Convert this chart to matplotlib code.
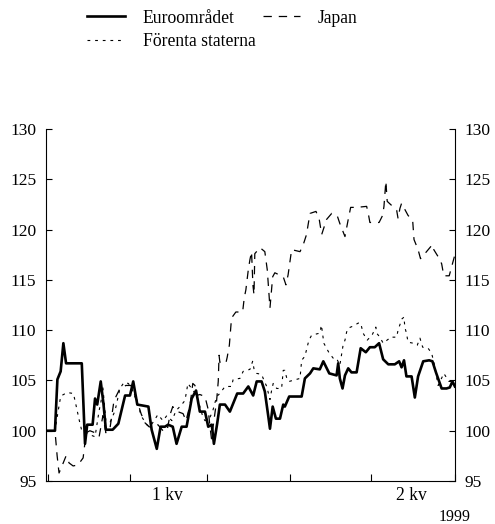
import matplotlib
matplotlib.use('Agg')
import matplotlib.pyplot as plt

plt.rcParams['font.family'] = 'Liberation Serif'
plt.rcParams['lines.scale_dashes'] = False

# days since 1 Jan 1999
euro_days = [0, 3.3, 4.2, 5.4, 6.4, 7.4, 13.2, 14.4, 15.2, 17.2, 18.1, 18.9, 20.2, 21.2, 22.1, 24.6,
             26.7, 29.2, 31, 32.2, 33.7, 37.8, 39, 40.9, 42.3, 43.9, 45.1, 46.8, 48.2, 50.1, 51.9,
             53.8, 55.4, 56.8, 58.7, 59.9, 61.2, 62, 63.2, 64.2, 66.1, 67.9, 70.6, 72.8, 74.7, 76.5,
             77.8, 79.6, 80.8, 82.1, 82.7, 83.7, 84.9, 86.4, 87.6, 88.2, 89.8, 94.4, 95.6, 97.5,
             98.7, 101.1, 102.4, 104.6, 107.3, 107.9, 108.5, 109.5, 110.4, 111.6, 112.8, 114.7,
             116.2, 118.1, 119.6, 121.4, 123, 124.5, 126.4, 128.8, 130.4, 131.3, 132.2, 133.1, 135,
             136.2, 137.4, 139.3, 141.5, 142.7, 144, 146.1, 147.9, 149.1, 150.1, 151]
euro_vals = [100, 100, 105.1, 105.9, 108.7, 106.7, 106.7, 98.7, 100.6, 100.6, 103.2, 102.6, 104.9,
             102.7, 100.1, 100.1, 100.7, 103.5, 103.5, 104.9, 102.6, 102.4, 100.1, 98.2, 100.4,
             100.4, 100.6, 100.4, 98.7, 100.4, 100.4, 103.2, 104, 101.9, 101.9, 100.4, 100.6, 98.7,
             100.7, 102.6, 102.6, 101.9, 103.7, 103.7, 104.4, 103.5, 104.9, 104.9, 103.9, 101.4,
             100.2, 102.4, 101.2, 101.2, 102.6, 102.4, 103.4, 103.4, 105.2, 105.7, 106.2, 106.1,
             106.9, 105.7, 105.5, 106.7, 105.2, 104.2, 105.5, 106.2, 105.8, 105.8, 108.2, 107.8,
             108.3, 108.3, 108.7, 107.1, 106.6, 106.6, 106.9, 106.3, 107, 105.4, 105.4, 103.3,
             105.4, 106.9, 107, 106.9, 105.8, 104.2, 104.2, 104.3, 104.9, 104.4]

japan_days = [0, 3.3, 4.1, 4.8, 5.9, 7.4, 8.5, 10, 11.8, 13.7, 14.8, 16.2, 18.1, 19.6, 21, 22.1,
              23.6, 25.1, 27.3, 29.5, 31.4, 33.6, 35.1, 36.5, 38, 39.5, 41.3, 43.2, 44.7, 45.8,
              46.8, 47.6, 50.6, 51.7, 53.2, 54.2, 55, 55.6, 56.8, 58.7, 59.9, 60.5, 61.1, 63,
              63.6, 63.9, 64.2, 66.4, 66.9, 67.7, 68.5, 70.1, 72.6, 73.2, 73.8, 74.7, 75.3, 75.9,
              76.4, 76.8, 77.1, 79, 80.8, 81.7, 82.7, 83.7, 84.5, 87.6, 88.6, 89.4, 90.7, 93.8,
              95, 96.2, 96.8, 97.5, 99.7, 100.9, 101.8, 103.6, 105.5, 107.5, 108.5, 110.4, 111.6,
              112.5, 114.7, 118.4, 119, 119.6, 123, 124.3, 124.8, 125.5, 126, 127.6, 129.5, 130,
              130.7, 131.3, 133.7, 135.4, 135.9, 137.4, 138.3, 139.9, 142.7, 143.2, 144.8, 146.1,
              146.9, 148.9, 150.1, 151]
japan_vals = [100, 100, 97.5, 95.8, 96.5, 97.5, 96.8, 96.5, 96.6, 97.3, 99.8, 100, 99.8, 99.4,
              101.5, 99.8, 100.2, 103, 104.2, 104.5, 104.5, 103, 101.7, 100.8, 100.4, 100.3, 100.6,
              100, 100, 101.6, 102.4, 102, 101.7, 101, 102.6, 104.7, 104.5, 103.5, 103.6, 103.4,
              102.1, 100.5, 99.2, 103, 104.9, 107.5, 106.8, 106.7, 107.3, 108.5, 111.2, 111.8,
              111.8, 113.2, 114, 116, 117, 117.8, 114.5, 113.5, 117.6, 118.2, 117.8, 116, 112.2,
              115.3, 115.7, 115.3, 114.5, 115.5, 118, 117.8, 118.5, 119.5, 120.5, 121.6, 121.8, 121,
              119.5, 121, 121.6, 121.4, 120.6, 119.3, 121, 122.2, 122.2, 122.3, 121.6, 120.7, 120.7,
              121.4, 122.3, 124.8, 122.8, 122.4, 121.9, 121.1, 122.1, 122.6, 121.4, 120.9, 119,
              118, 117.1, 117.6, 118.5, 118, 117.3, 116.6, 115.4, 115.4, 116.6, 117.5]

us_days = [0, 3.3, 3.9, 4.5, 5.4, 5.8, 7.8, 10.1, 10.7, 12.3, 13.2, 14.4, 16.2, 18.1, 19.6, 20.3,
           21, 22.1, 23.6, 25.5, 27.3, 28.8, 30.4, 31.7, 33.5, 35.3, 37.2, 38.4, 39.9, 41.3, 43.2,
           44.6, 46.5, 48, 49.8, 51.3, 52.4, 54.3, 55.6, 56.5, 58, 58.7, 60.5, 61.6, 63, 64.2, 66.1,
           68.5, 69.1, 71.6, 72.8, 74.1, 75.3, 76.3, 76.9, 77.8, 79.6, 80.5, 81.5, 82.7, 83.3,
           83.9, 85.2, 87, 87.6, 88.2, 89.1, 89.8, 93.8, 94.4, 95.6, 96.8, 97.5, 98.1, 101.1,
           101.7, 102.6, 103.4, 104.6, 106.1, 107.3, 108.5, 109.7, 110.4, 111, 111.6, 113.4,
           115.3, 116.2, 117.1, 118.6, 120.4, 121.8, 122.1, 123.3, 124.5, 126.4, 127, 129.5, 130,
           130.9, 131.4, 132.2, 132.5, 133.1, 133.7, 135.6, 137.1, 138.1, 139.1, 141.1, 142.4,
           143.6, 144.2, 144.8, 146.4, 146.9, 148.8, 151]
us_vals = [100, 100, 101, 102, 103.4, 103.5, 103.8, 103.7, 103, 101, 100, 99.8, 99.6, 99.4, 102,
           102.9, 104.3, 101, 100.8, 102, 104.2, 104.8, 104.7, 104.2, 102.9, 101.4, 100.6, 100.4,
           101, 101.6, 101, 101.5, 101, 102, 102.5, 103, 104.7, 104, 103.5, 102.7, 101.3, 101,
           101.3, 102, 103.4, 103.7, 104.4, 104.4, 105.1, 105.2, 105.9, 106, 106.1, 106.9, 106,
           105.7, 105.6, 105, 104.4, 103.1, 104, 104.7, 104.2, 104.2, 106, 106, 105, 104.9, 105.2,
           107, 107.4, 108.7, 109.2, 109.5, 109.7, 110.5, 108.7, 108.3, 107.7, 107.2, 107.2, 106.5,
           108.5, 109, 109.8, 110.2, 110.4, 110.7, 110.7, 109.7, 109, 109.5, 110.3, 109.7, 109.3,
           108.7, 109.1, 109.3, 109.3, 110, 110.7, 111.1, 111.3, 110.3, 109.7, 108.8, 108.7, 108.5,
           109.2, 108.3, 108.2, 107.7, 106.4, 105.4, 104.5, 105.4, 105.7, 104.9, 104.9]

month_ticks = [0.7, 31, 59.4, 90.1, 120, 151]
quarter_pos = [45, 135]
quarter_labels = ['1 kv', '2 kv']
yticks = [95, 100, 105, 110, 115, 120, 125, 130]

fig = plt.figure(figsize=(4.95, 5.24), dpi=100)
ax = fig.add_axes([0.093, 0.082, 0.826, 0.672])

l_eu, = ax.plot(euro_days, euro_vals, color='black', lw=1.9, label='Euroområdet')
l_jp, = ax.plot(japan_days, japan_vals, color='black', lw=0.9, label='Japan')
l_jp.set_dashes((6, 5))
l_us, = ax.plot(us_days, us_vals, color='black', lw=0.8, label='Förenta staterna')
l_us.set_dashes((2, 3.5))

ax.set_xlim(0, 151)
ax.set_ylim(95, 130)
ax.set_yticks(yticks)
ax.tick_params(axis='y', direction='in', length=4, left=True, right=True,
               labelleft=True, labelright=True, labelsize=12.5, pad=7)
ax.spines['top'].set_visible(False)

ax.set_xticks(month_ticks)
ax.set_xticklabels([])
ax.set_xticks(quarter_pos, minor=True)
ax.set_xticklabels(quarter_labels, minor=True, fontsize=12.7)
ax.tick_params(axis='x', which='major', direction='in', length=5)
ax.tick_params(axis='x', which='minor', length=0, pad=4)
fig.text(0.951, 0.006, '1999', fontsize=11.5, ha='right', va='baseline')

fig.legend(handles=[l_eu, l_us, l_jp], ncol=2, loc='upper left', bbox_to_anchor=(0.144, 1.012),
           frameon=False, fontsize=12.7, handlelength=2.15, handletextpad=1.0,
           columnspacing=0.4, labelspacing=0.35)

fig.savefig('out.png', dpi=100)
